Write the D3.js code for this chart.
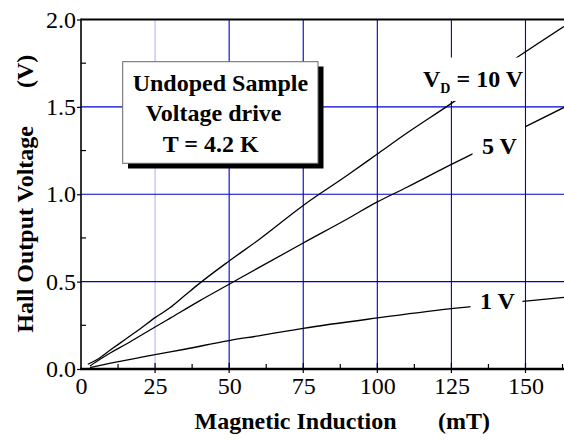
<!DOCTYPE html>
<html><head><meta charset="utf-8">
<script src="https://cdn.jsdelivr.net/npm/d3@7"></script>
<style>body{margin:0;background:#fff}svg{display:block}text{font-family:"Liberation Serif","Times New Roman",serif !important}</style>
</head><body>
<svg id="c" width="564" height="443"></svg>
<script>
const xTicks = [0, 25, 50, 75, 100, 125, 150];
const yTicks = [0.0, 0.5, 1.0, 1.5, 2.0];
const seriesNames = ["10 V", "5 V", "1 V"];
const b10 = [2.3, 5, 10, 15, 20, 25, 30, 35, 40, 50, 60, 75, 90, 100, 110, 125, 140, 150, 163];
const v10 = [0.027, 0.05, 0.11, 0.17, 0.23, 0.294, 0.35, 0.42, 0.49, 0.618, 0.74, 0.936, 1.11, 1.23, 1.35, 1.52, 1.70, 1.815, 1.96];
const b5 = [3, 5, 10, 15, 20, 25, 30, 40, 50, 60, 75, 90, 100, 110, 125, 132, 150, 163];
const v5 = [0.017, 0.04, 0.093, 0.14, 0.19, 0.24, 0.29, 0.39, 0.485, 0.58, 0.721, 0.86, 0.956, 1.04, 1.171, 1.23, 1.387, 1.497];
const b1 = [3, 10, 20, 25, 35, 50, 60, 75, 100, 125, 150, 163];
const v1 = [0.008, 0.033, 0.066, 0.082, 0.113, 0.163, 0.19, 0.233, 0.292, 0.345, 0.388, 0.41];

const svg = d3.select("#c");
const x = d3.scaleLinear().domain([0, 163]).range([81, 564]);
const y = d3.scaleLinear().domain([0, 2]).range([369, 19.5]);

// grid
const g = svg.append("g");
g.selectAll("line.v").data(xTicks.filter(d => d > 0)).join("line")
  .attr("x1", d => x(d)).attr("x2", d => x(d)).attr("y1", y(2)).attr("y2", y(0))
  .attr("stroke", d => d === 25 ? "#b4b4f4" : "#0000cc").attr("stroke-width", 1.1);
g.selectAll("line.h").data(yTicks.filter(d => d > 0 && d < 2)).join("line")
  .attr("x1", x(0)).attr("x2", 564).attr("y1", d => y(d)).attr("y2", d => y(d))
  .attr("stroke", "#0000cc").attr("stroke-width", 1.1);

// curves
const line = d3.line().x(d => x(d[0])).y(d => y(d[1])).curve(d3.curveMonotoneX);
[[b10, v10], [b5, v5], [b1, v1]].forEach(([bs, vs]) => {
  svg.append("path").datum(bs.map((b, i) => [b, vs[i]])).attr("d", line)
    .attr("fill", "none").attr("stroke", "#000").attr("stroke-width", 1.3);
});

// label masks
const masks = [[418, 57.5, 106, 43.5], [472.5, 124, 52.5, 36], [470.5, 283, 52, 30]];
svg.selectAll("rect.m").data(masks).join("rect")
  .attr("x", d => d[0]).attr("y", d => d[1]).attr("width", d => d[2]).attr("height", d => d[3]).attr("fill", "#fff");

// curve labels
const lab = svg.append("text").attr("x", 423).attr("y", 86.7).attr("font-size", 24).attr("font-weight", "bold");
lab.append("tspan").text("V");
lab.append("tspan").attr("font-size", 14).attr("dy", 6).text("D");
lab.append("tspan").attr("dy", -6).text(" = " + seriesNames[0]);
svg.append("text").attr("x", 482).attr("y", 153.7).attr("font-size", 24).attr("font-weight", "bold").text(seriesNames[1]);
svg.append("text").attr("x", 480).attr("y", 308.5).attr("font-size", 24).attr("font-weight", "bold").text(seriesNames[2]);

// annotation box
svg.append("rect").attr("x", 128).attr("y", 66.5).attr("width", 195.5).attr("height", 102).attr("fill", "#000");
svg.append("rect").attr("x", 122.7).attr("y", 61.7).attr("width", 195.3).attr("height", 101.6)
  .attr("fill", "#fff").attr("stroke", "#666").attr("stroke-width", 1);
[["Undoped Sample", 132.7, 90.7], ["Voltage drive", 145.7, 121.2], ["T = 4.2 K", 162.7, 151.5]].forEach(([t, tx, ty]) => {
  svg.append("text").attr("x", tx).attr("y", ty).attr("font-size", 24).attr("font-weight", "bold").text(t);
});

// axes frame
svg.append("line").attr("x1", x(0)).attr("x2", 564).attr("y1", y(2)).attr("y2", y(2)).attr("stroke", "#000").attr("stroke-width", 2);
svg.append("line").attr("x1", x(0)).attr("x2", x(0)).attr("y1", y(2) - 1).attr("y2", y(0) + 1).attr("stroke", "#000").attr("stroke-width", 1.6);
svg.append("line").attr("x1", x(0) - 1).attr("x2", 564).attr("y1", y(0)).attr("y2", y(0)).attr("stroke", "#000").attr("stroke-width", 2.6);

// ticks
const xAxis = d3.axisBottom(x).tickValues(xTicks).tickSize(0).tickPadding(8).tickFormat(d3.format("d"));
const xa = svg.append("g").attr("transform", `translate(0,${y(0)})`).call(xAxis);
xa.attr("font-family", null).attr("font-size", null);
xa.select(".domain").remove();
xa.selectAll("text").attr("font-size", 24).attr("fill", "#000").attr("dy", "0.71em");
const xMinor = d3.range(12.5, 163, 12.5).filter(d => d % 25 !== 0);
svg.selectAll("line.xm").data(xMinor).join("line")
  .attr("x1", d => x(d)).attr("x2", d => x(d)).attr("y1", y(0)).attr("y2", y(0) - 5).attr("stroke", "#000").attr("stroke-width", 1.2);
svg.selectAll("line.xM").data(xTicks.filter(d => d > 0)).join("line")
  .attr("x1", d => x(d)).attr("x2", d => x(d)).attr("y1", y(0) + 4).attr("y2", y(0) - 6).attr("stroke", "#000").attr("stroke-width", 1.2);

const yAxis = d3.axisLeft(y).tickValues(yTicks).tickSize(4).tickPadding(1).tickFormat(d3.format(".1f"));
const ya = svg.append("g").attr("transform", `translate(${x(0)},0)`).call(yAxis);
ya.attr("font-family", null).attr("font-size", null);
ya.select(".domain").remove();
ya.selectAll("line").attr("stroke", "#000").attr("stroke-width", 1.2);
ya.selectAll("text").attr("font-size", 24).attr("fill", "#000");
const yMinor = [0.25, 0.75, 1.25, 1.75];
svg.selectAll("line.ym").data(yMinor).join("line")
  .attr("x1", x(0)).attr("x2", x(0) + 5).attr("y1", d => y(d)).attr("y2", d => y(d)).attr("stroke", "#000").attr("stroke-width", 1.2);

// axis titles
svg.append("text").attr("x", 194.5).attr("y", 429).attr("font-size", 24).attr("font-weight", "bold").text("Magnetic Induction");
svg.append("text").attr("x", 438).attr("y", 429).attr("font-size", 24).attr("font-weight", "bold").text("(mT)");
svg.append("text").attr("transform", "translate(33,332.7) rotate(-90)").attr("font-size", 24).attr("font-weight", "bold").text("Hall Output Voltage");
svg.append("text").attr("transform", "translate(33,88) rotate(-90)").attr("font-size", 24).attr("font-weight", "bold").text("(V)");
</script>
</body></html>
